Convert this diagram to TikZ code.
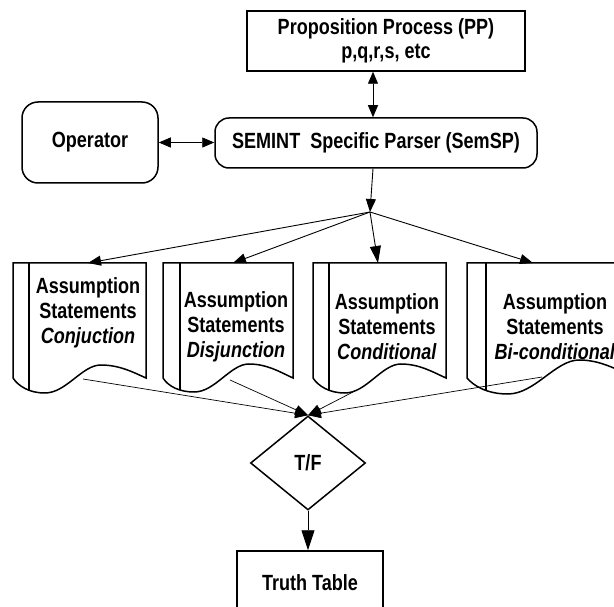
\documentclass[tikz,border=0pt]{standalone}
\usepackage{fontspec}
\setmainfont{Liberation Sans}[FakeStretch=0.82]
\usetikzlibrary{shapes.geometric,arrows.meta}
\newcommand\mydocpath[4]{(#1,263) -- (#2,263) -- (#2,378)
  .. controls ({#2-0.1*(#2-#1)},372) and ({#2-0.2*(#2-#1)},#3) .. ({#1+0.66*(#2-#1)},#3)
  .. controls ({#1+0.52*(#2-#1)},#3) and ({#1+0.40*(#2-#1)},#4) .. ({#1+0.24*(#2-#1)},#4)
  .. controls ({#1+0.12*(#2-#1)},#4) and ({#1+0.04*(#2-#1)},386) .. (#1,378) -- cycle}
\newcommand\mydocshape[5]{%
  \begin{scope}
    \clip \mydocpath{#1}{#2}{#4}{#5};
    \draw[boxline] (#3,263) -- (#3,420);
  \end{scope}
  \draw[boxline] \mydocpath{#1}{#2}{#4}{#5};
}
\tikzset{
  boxline/.style={line width=1.5pt},
  box/.style={draw, line width=1.5pt, align=center, inner sep=0pt,
    font=\bfseries\fontsize{22}{24}\selectfont},
  doctext/.style={align=center, inner sep=0pt, font=\bfseries\fontsize{22}{25}\selectfont},
  conn/.style={line width=0.9pt, -{Triangle[length=13pt,width=10pt]}},
  dconn/.style={line width=0.9pt, {Triangle[length=12pt,width=10pt]}-{Triangle[length=12pt,width=10pt]}},
}
\begin{document}
\begin{tikzpicture}[x=1pt,y=-1pt]
\useasboundingbox (0,0) rectangle (614,607);
\clip (0,0) rectangle (614,607);
\fill[white] (0,0) rectangle (614,607);

% main boxes
\node[box, minimum width=278pt, minimum height=60pt] (pp) at (386,41)
  {Proposition Process (PP)\\p,q,r,s, etc};
\node[box, rounded corners=14pt, minimum width=322pt, minimum height=50pt] (sem) at (376,143)
  {SEMINT\ \ Specific Parser (SemSP)};
\node[box, rounded corners=16pt, minimum width=136pt, minimum height=81pt] (op) at (90,142.5)
  {Operator};

% documents
\mydocshape{13}{146}{29}{365}{393}
\mydocshape{163}{293}{180}{364}{392}
\mydocshape{313}{446}{329}{364}{393}
\mydocshape{467}{637}{486}{360}{394}

\node[doctext] (d1) at (88,313) {Assumption\\Statements\\\textit{Conjuction}};
\node[doctext] (d2) at (236,327) {Assumption\\Statements\\\textit{Disjunction}};
\node[doctext] (d3) at (387,327) {Assumption\\Statements\\\textit{Conditional}};
\node[doctext] (d4) at (555,327) {Assumption\\Statements\\\textit{Bi-conditional}};

\coordinate (d1t) at (88,263);
\coordinate (d2t) at (233,263);
\coordinate (d3t) at (378,263);
\coordinate (d4t) at (533,263);
\coordinate (d1b) at (83,379);
\coordinate (d2b) at (230,380);
\coordinate (d3b) at (353,392);
\coordinate (d4b) at (542,377);

% decision and result
\node[box, diamond, minimum width=115pt, minimum height=94pt] (tf) at (308,463) {T/F};
\node[box, minimum width=146pt, minimum height=64pt] (tt) at (310,583) {Truth Table};

% connectors
\coordinate (fan) at (370,212);
\draw[dconn] (pp.south -| 373,0) -- (sem.north -| 373,0);
\draw[dconn] (op.east) -- (sem.west |- op.east);
\draw[conn] (sem.south -| 373,0) -- (fan);
\draw[conn] (fan) -- (d1t);
\draw[conn] (fan) -- (d2t);
\draw[conn, -{Triangle[length=17pt,width=11pt]}] (fan) -- (d3t);
\draw[conn] (fan) -- (d4t);
\draw[conn, line width=0.7pt] (d1b) -- (tf.north);
\draw[conn, line width=0.7pt] (d2b) -- (tf.north);
\draw[conn, line width=0.7pt] (d3b) -- (tf.north);
\draw[conn, line width=0.7pt] (d4b) -- (tf.north);
\draw[conn, -{Triangle[length=20pt,width=13pt]}] (tf.south) -- (tf.south |- tt.north);
\end{tikzpicture}
\end{document}
